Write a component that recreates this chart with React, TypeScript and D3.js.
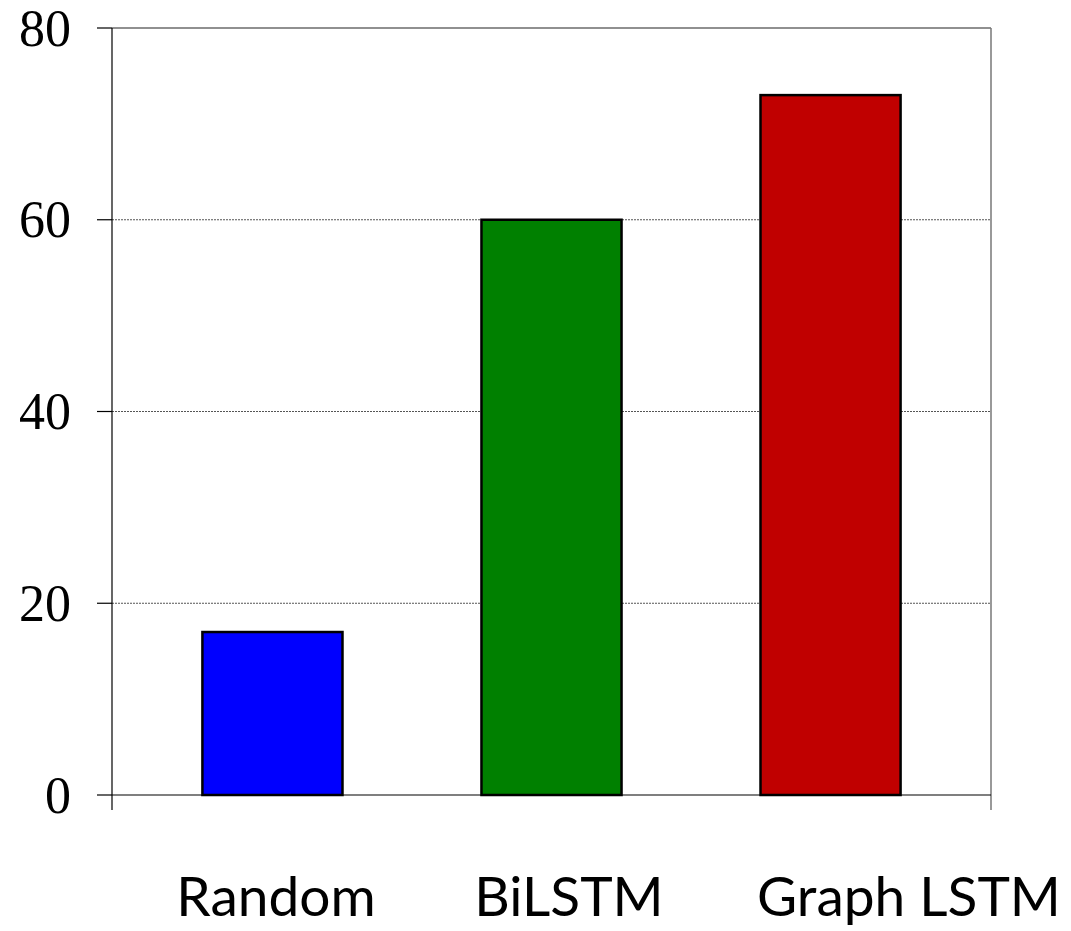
import React from "react";
import * as d3 from "d3";

const categories = ["Random", "BiLSTM", "Graph LSTM"];
const values = [17, 60, 73];
const barColors = ["#0000FF", "#008000", "#C00000"];
const yTicks = [0, 20, 40, 60, 80];

// layout
const W = 1071;
const H = 931;
const left = 112;
const right = 991;
const top = 28;
const bottom = 795;
const labelCenters = [276, 569, 909];

export default function App() {
  const x = d3
    .scaleBand<string>()
    .domain(categories)
    .range([left, right])
    .paddingInner(0.498)
    .paddingOuter(0.324);
  const y = d3.scaleLinear().domain([0, 80]).range([bottom, top]);

  return (
    <svg
      width={W}
      height={H}
      style={{ position: "absolute", left: 0, top: 0, background: "#fff" }}
    >
      {/* grid lines */}
      {yTicks
        .filter((t) => t > 0 && t < 80)
        .map((t) => (
          <line
            key={"g" + t}
            x1={left}
            x2={right}
            y1={y(t)}
            y2={y(t)}
            stroke="#555"
            strokeWidth={1}
            strokeDasharray="2,1"
          />
        ))}
      {/* top line */}
      <line x1={left} x2={right} y1={y(80)} y2={y(80)} stroke="#222" strokeWidth={1.2} />
      {/* right border */}
      <line x1={right} x2={right} y1={y(80)} y2={bottom + 15} stroke="#777" strokeWidth={1.5} />
      {/* bars */}
      {categories.map((c, i) => (
        <rect
          key={c}
          x={x(c)}
          y={y(values[i])}
          width={x.bandwidth()}
          height={y(0) - y(values[i])}
          fill={barColors[i]}
          stroke="#000"
          strokeWidth={2.5}
        />
      ))}
      {/* y axis */}
      <line x1={left} x2={left} y1={y(80)} y2={bottom + 15} stroke="#000" strokeWidth={1.2} />
      {/* baseline */}
      <line x1={left} x2={right} y1={y(0)} y2={y(0)} stroke="#000" strokeWidth={1.2} />
      {yTicks.map((t) => (
        <g key={"t" + t}>
          <line x1={left - 15} x2={left} y1={y(t)} y2={y(t)} stroke="#000" strokeWidth={1.2} />
          <text
            x={71}
            y={y(t)}
            textAnchor="end"
            dominantBaseline="central"
            fontFamily="'Liberation Serif', 'Times New Roman', serif"
            fontSize={52}
            fill="#000"
          >
            {t}
          </text>
        </g>
      ))}
      {/* category labels */}
      {categories.map((c, i) => (
        <text
          key={"l" + c}
          transform={`translate(${labelCenters[i]},916)`}
          textAnchor="middle"
          fontFamily="Lato, 'Open Sans', sans-serif"
          fontSize={55}
          fill="#000"
        >
          {c}
        </text>
      ))}
    </svg>
  );
}
